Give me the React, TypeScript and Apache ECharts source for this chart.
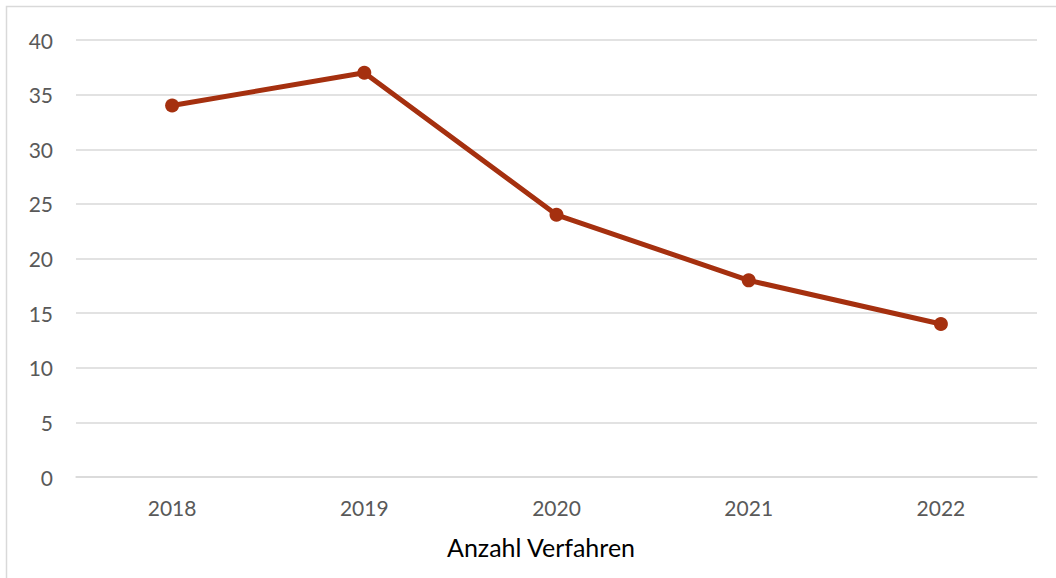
import React, { useEffect, useRef } from "react";
import * as echarts from "echarts";

const categories = ["2018", "2019", "2020", "2021", "2022"];
const values = [34, 37, 24, 18, 14];
const seriesName = "Anzahl Verfahren";

export default function App() {
  const ref = useRef<HTMLDivElement>(null);
  useEffect(() => {
    document.body.style.margin = "0";
    const chart = echarts.init(ref.current!, null, { renderer: "svg" });
    const font = "Lato, 'Open Sans', sans-serif";
    chart.setOption({
      animation: false,
      backgroundColor: "#ffffff",
      textStyle: { fontFamily: font },
      grid: { left: 76, right: 19, top: 40, bottom: 101, containLabel: false },
      legend: {
        data: [{ name: seriesName, icon: "none" }],
        top: 534,
        left: 442,
        itemWidth: 0,
        itemGap: 0,
        padding: 0,
        textStyle: { fontSize: 25, color: "#000000", fontFamily: font },
        selectedMode: false,
      },
      xAxis: {
        type: "category",
        data: categories,
        boundaryGap: true,
        axisLine: { show: true, lineStyle: { color: "#d9d9d9", width: 1.5 } },
        axisTick: { show: false },
        axisLabel: { color: "#595959", fontSize: 21, margin: 20, fontFamily: font },
      },
      yAxis: {
        type: "value",
        min: 0,
        max: 40,
        interval: 5,
        axisLine: { show: false },
        axisTick: { show: false },
        splitLine: { lineStyle: { color: "#d9d9d9", width: 1.5 } },
        axisLabel: { color: "#595959", fontSize: 21, margin: 23, fontFamily: font },
      },
      graphic: [
        {
          type: "rect",
          shape: { x: 6.5, y: 6.5, width: 1060, height: 590 },
          style: { fill: "none", stroke: "#d9d9d9", lineWidth: 1.5 },
          silent: true,
        },
      ],
      series: [
        {
          name: seriesName,
          type: "line",
          data: values,
          symbol: "circle",
          symbolSize: 14,
          lineStyle: { color: "#a5300f", width: 5 },
          itemStyle: { color: "#a5300f" },
        },
      ],
    });
    return () => chart.dispose();
  }, []);
  return <div ref={ref} style={{ width: 1056, height: 578 }} />;
}
